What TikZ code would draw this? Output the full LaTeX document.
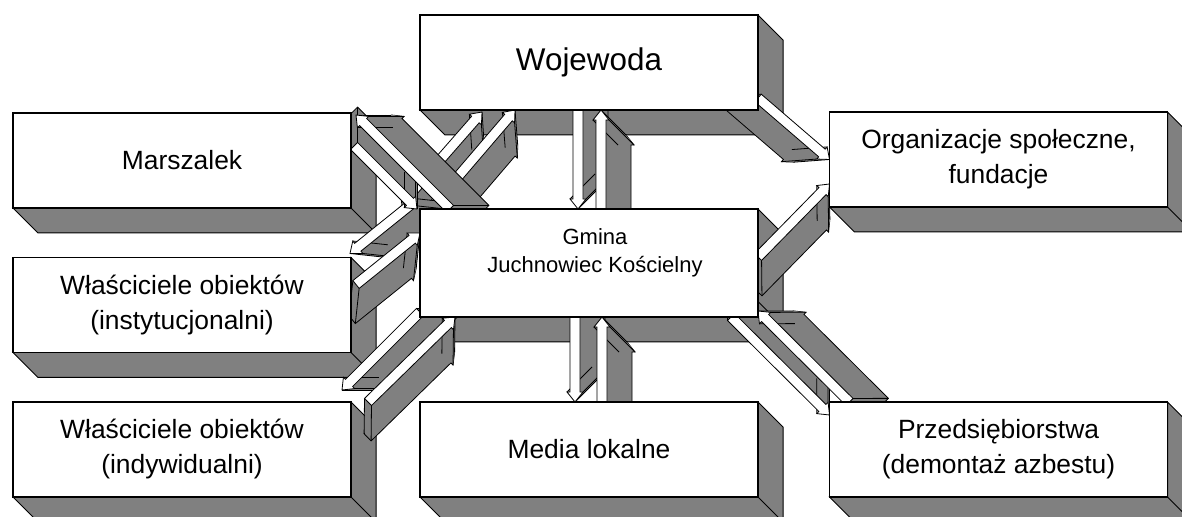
\documentclass[tikz,border=0pt]{standalone}
\usepackage{fontspec}
\setmainfont{Liberation Sans}
\usetikzlibrary{calc,positioning}

\pgfdeclarelayer{depth}
\pgfdeclarelayer{links}
\pgfsetlayers{depth,links,main}

% outline of one bar arrow, pushed #1 of the way along its depth
\newcommand\barpath[1]{($(a1)+#1*(lv)$) -- ($(a2)+#1*(lv)$) -- ($(a3)+#1*(lv)$)
  -- ($(a4)+#1*(lv)$) -- ($(a5)+#1*(lv)$) -- ($(a6)+#1*(lv)$) -- ($(a7)+#1*(lv)$) -- cycle}
% 3-D bar arrow from #1 to #2, side face turned by #3
\newcommand\linkbar[3]{%
  \coordinate (lf) at ($(#1)!12.5pt!(#2)$);
  \coordinate (lr) at ($(#1)!12.5pt!#3:(#2)$);
  \coordinate (lv) at ($(lr)-(lf)$);
  \coordinate (lb) at ($(#2)!5pt!(#1)$);
  \coordinate (a1) at ($(#1)!2.5pt!90:(#2)$);
  \coordinate (a2) at ($(lb)!2.5pt!90:(#2)$);
  \coordinate (a3) at ($(lb)!4pt!90:(#2)$);
  \coordinate (a4) at (#2);
  \coordinate (a5) at ($(lb)!4pt!-90:(#2)$);
  \coordinate (a6) at ($(lb)!2.5pt!-90:(#2)$);
  \coordinate (a7) at ($(#1)!2.5pt!-90:(#2)$);
  \filldraw[fill=gray, line width=.4pt] \barpath{1};
  \foreach \k in {1,...,23}{\fill[gray] \barpath{\k/24};}
  \foreach \c in {a1,a3,a4,a5,a7}{\draw[line width=.4pt] (\c) -- ($(\c)+(lv)$);}
  \filldraw[fill=white, line width=.4pt] \barpath{0};
}

\begin{document}
\begin{tikzpicture}[
    x=0.5pt, y=-0.5pt,
    block/.style={
      draw,
      fill=white,
      line width=0.7pt,
      align=center,
      inner sep=0pt,
      outer sep=0pt,
      minimum width=169pt,
      minimum height=47.5pt,
      font=\fontsize{13.2}{17.5}\selectfont
    },
    depthface/.style={
      fill=gray,
      draw=black,
      line width=0.5pt
    }
]
  \useasboundingbox (0,0) rectangle (1182,517);

  % Boxes
  \node[block, font=\fontsize{15.7}{19}\selectfont] (woj) at (589,62.5) {Wojewoda};
  \node[block] (mar) at (182,160.5) {Marszalek};
  \node[block] (org) at (998.5,159.5) {Organizacje społeczne,\\fundacje};
  \node[block, minimum height=54pt] (gmi) at (589,263) {};
  \node[font=\fontsize{11}{14}\selectfont, align=center] (gmitxt)
    at ($(gmi.center)+(6,-10)$) {Gmina\hspace{13pt}\\Juchnowiec Kościelny};
  \node[block] (ins) at (182,305) {Właściciele obiektów\\(instytucjonalni)};
  \node[block] (ind) at (182,449.5) {Właściciele obiektów\\(indywidualni)};
  \node[block] (med) at (589,449.5) {Media lokalne};
  \node[block] (prz) at (998.5,449.5) {Przedsiębiorstwa\\(demontaż azbestu)};

  % Depth of the boxes
  \begin{pgfonlayer}{depth}
    \foreach \n in {woj,mar,org,gmi,ins,ind,med,prz}{
      \path[depthface] (\n.south west) -- ++(25,25) -- ($(\n.south east)+(25,25)$)
        -- ($(\n.north east)+(25,25)$) -- (\n.north east) -- (\n.south east) -- cycle;
      \draw[line width=0.5pt] (\n.south east) -- ++(25,25);
    }
  \end{pgfonlayer}

  % Arrow ends
  \coordinate (wg1t) at ($(woj.south)+(-11,0)$);
  \coordinate (wg1h) at ($(gmi.north)+(-11,0)$);
  \coordinate (wg2t) at ($(gmi.north)+(12,0)$);
  \coordinate (wg2h) at ($(woj.south)+(12,0)$);
  \coordinate (gm1t) at ($(gmi.south)+(-14,0)$);
  \coordinate (gm1h) at ($(med.north)+(-14,0)$);
  \coordinate (gm2t) at ($(med.north)+(13,0)$);
  \coordinate (gm2h) at ($(gmi.south)+(13,0)$);
  \coordinate (mg1t) at ($(mar.north east)+(3,33)$);
  \coordinate (mg1h) at ($(gmi.north west)+(-3,0)$);
  \coordinate (mg2t) at ($(gmi.north west)+(30,0)$);
  \coordinate (mg2h) at ($(mar.north east)+(5,2)$);
  \coordinate (uw1t) at ($(gmi.north west)+(-15,-9)$);
  \coordinate (uw1h) at ($(woj.south west)+(62,2)$);
  \coordinate (uw2t) at ($(gmi.north west)+(12,-2)$);
  \coordinate (uw2h) at ($(woj.south west)+(95,0)$);
  \coordinate (ig1t) at ($(gmi.north west)+(-6,-7)$);
  \coordinate (ig1h) at ($(ins.north east)+(-1,-4)$);
  \coordinate (ig2t) at ($(ins.north east)+(5,27)$);
  \coordinate (ig2h) at ($(gmi.north west)+(0,24)$);
  \coordinate (dg1t) at ($(gmi.south west)+(0,-5)$);
  \coordinate (dg1h) at ($(ind.north east)+(-9,-12)$);
  \coordinate (dg2t) at ($(ind.north east)+(17,0)$);
  \coordinate (dg2h) at ($(gmi.south west)+(35,0)$);
  \coordinate (wot) at ($(woj.south east)+(0,-12)$);
  \coordinate (woh) at (org.west);
  \coordinate (got) at ($(gmi.east)+(0,-6)$);
  \coordinate (goh) at ($(org.south west)+(0,-23)$);
  \coordinate (gp1t) at ($(gmi.south east)+(-27,0)$);
  \coordinate (gp1h) at ($(prz.north west)+(0,13)$);
  \coordinate (gp2t) at ($(prz.north west)+(20,0)$);
  \coordinate (gp2h) at ($(gmi.south east)+(0,-6)$);

  % Connecting arrows
  \begin{pgfonlayer}{links}
    \linkbar{uw1t}{uw1h}{-90}
    \linkbar{uw2t}{uw2h}{-90}
    \linkbar{ig1t}{ig1h}{90}
    \linkbar{ig2t}{ig2h}{-90}
    \linkbar{mg1t}{mg1h}{90}
    \linkbar{mg2t}{mg2h}{-90}
    \linkbar{dg1t}{dg1h}{90}
    \linkbar{dg2t}{dg2h}{-90}
    \linkbar{wg1t}{wg1h}{90}
    \linkbar{wg2t}{wg2h}{-90}
    \linkbar{gm1t}{gm1h}{90}
    \linkbar{gm2t}{gm2h}{-90}
    \linkbar{gp1t}{gp1h}{90}
    \linkbar{gp2t}{gp2h}{-90}
    \linkbar{wot}{woh}{-90}
    \linkbar{got}{goh}{-90}
  \end{pgfonlayer}
\end{tikzpicture}
\end{document}
